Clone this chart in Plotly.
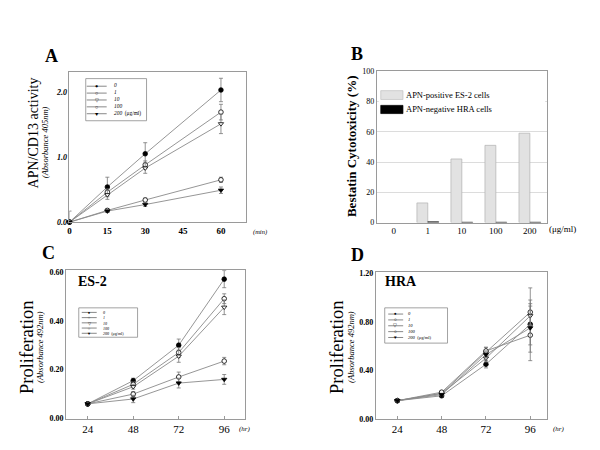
import plotly.graph_objects as go

# page body has an 8px margin: the figure is drawn 8px right/down in the window
OFF = 8
W, H = 600 - OFF, 450 - OFF
SERIF = "Liberation Serif"

# ---------------- data ----------------
doses = ["0", "1", "10", "100", "200"]

# Panel A: APN/CD13 activity vs time (min)
time_a = [0, 15, 30, 60]
a_d0 = [0.0, 0.54, 1.05, 2.03]
a_d1 = [0.0, 0.46, 0.88, 1.69]
a_d10 = [0.0, 0.42, 0.83, 1.51]
a_d100 = [0.0, 0.18, 0.34, 0.65]
a_d200 = [0.0, 0.17, 0.27, 0.49]
a_e0 = [0.17, 0.15, 0.17, 0.18]
a_e1 = [0.0, 0.05, 0.06, 0.12]
a_e10 = [0.0, 0.07, 0.08, 0.15]
a_e100 = [0.0, 0.03, 0.03, 0.04]
a_e200 = [0.0, 0.02, 0.03, 0.05]

# Panel B: bestatin cytotoxicity (%)
b_es2 = [0, 13, 42, 51, 59]
b_hra = [0, 0.6, 0.3, 0.3, 0.3]

# Panel C: ES-2 proliferation vs time (hr)
time_c = [24, 48, 72, 96]
c_d0 = [0.06, 0.155, 0.30, 0.57]
c_d1 = [0.06, 0.14, 0.27, 0.49]
c_d10 = [0.06, 0.13, 0.255, 0.455]
c_d100 = [0.06, 0.10, 0.17, 0.235]
c_d200 = [0.06, 0.08, 0.145, 0.16]
c_e0 = [0.0, 0.01, 0.025, 0.035]
c_e1 = [0.0, 0.01, 0.02, 0.02]
c_e10 = [0.0, 0.01, 0.025, 0.03]
c_e100 = [0.0, 0.01, 0.02, 0.015]
c_e200 = [0.0, 0.015, 0.02, 0.02]

# Panel D: HRA proliferation vs time (hr)
time_d = [24, 48, 72, 96]
d_d0 = [0.15, 0.19, 0.45, 0.78]
d_d1 = [0.15, 0.21, 0.55, 0.88]
d_d10 = [0.15, 0.21, 0.50, 0.85]
d_d100 = [0.15, 0.22, 0.56, 0.69]
d_d200 = [0.15, 0.20, 0.53, 0.75]
d_e0 = [0.005, 0.01, 0.03, 0.30]
d_e1 = [0.0, 0.01, 0.04, 0.10]
d_e10 = [0.0, 0.01, 0.03, 0.08]
d_e100 = [0.0, 0.01, 0.03, 0.08]
d_e200 = [0.0, 0.01, 0.03, 0.20]

# ---------------- styles ----------------
sym = ["circle", "circle", "triangle-down", "circle", "triangle-down"]
fill = ["black", "white", "white", "white", "black"]
leg_glyph = ["●", "○", "▽", "○", "▼"]
leg_text = ["0", "1", "10", "100", "200"]


def px(x):
    return (x - OFF) / W


def py(y):
    return 1 - (y - OFF) / H


fig = go.Figure()


def add_series(xs, ys, errs, xa, ya):
    for i in range(5):
        fig.add_trace(go.Scatter(
            x=xs, y=ys[i], mode="lines+markers", xaxis=xa, yaxis=ya,
            showlegend=False, cliponaxis=False,
            line=dict(color="#8a8a8a", width=0.9),
            marker=dict(symbol=sym[i], size=4.6, color=fill[i],
                        line=dict(color="black", width=0.8)),
            error_y=dict(type="data", array=errs[i], color="#777",
                         thickness=0.8, width=2),
        ))


add_series(time_a, [a_d0, a_d1, a_d10, a_d100, a_d200],
           [a_e0, a_e1, a_e10, a_e100, a_e200], "x", "y")

fig.add_trace(go.Bar(x=doses, y=b_es2, xaxis="x2", yaxis="y2",
                     name="APN-positive ES-2 cells", showlegend=False,
                     marker=dict(color="#e2e2e2",
                                 line=dict(color="#b0b0b0",
                                           width=[0.7 if v > 0 else 0 for v in b_es2]))))
fig.add_trace(go.Bar(x=doses, y=b_hra, xaxis="x2", yaxis="y2",
                     name="APN-negative HRA cells", showlegend=False,
                     marker=dict(color="black",
                                 line=dict(color="black",
                                           width=[0.5 if v > 0 else 0 for v in b_hra]))))

add_series(time_c, [c_d0, c_d1, c_d10, c_d100, c_d200],
           [c_e0, c_e1, c_e10, c_e100, c_e200], "x3", "y3")
add_series(time_d, [d_d0, d_d1, d_d10, d_d100, d_d200],
           [d_e0, d_e1, d_e10, d_e100, d_e200], "x4", "y4")

axcol = "#9a9a9a"
common = dict(showline=True, mirror=True, linecolor=axcol, linewidth=1,
              zeroline=False, showgrid=False, ticks="")

fig.update_layout(
    width=W, height=H, margin=dict(l=0, r=0, t=0, b=0),
    paper_bgcolor="white", plot_bgcolor="white",
    font=dict(family=SERIF, color="black"),
    barmode="group", bargap=0.36, bargroupgap=0,
    xaxis=dict(domain=[px(67.7), px(245)], anchor="y", range=[0, 70],
               tickvals=[0, 15, 30, 45, 60],
               tickfont=dict(size=9, weight="bold", color="black"), **common),
    yaxis=dict(domain=[py(222.5), py(69)], anchor="x", range=[0, 2.31],
               tickvals=[0, 1, 2], ticktext=["0.0", "1.0", "2.0"],
               tickfont=dict(size=8, weight="bold", style="italic", color="black"), **common),
    xaxis2=dict(domain=[px(376), px(546.7)], anchor="y2", type="category",
                tickfont=dict(size=9, color="black"), **common),
    yaxis2=dict(domain=[py(223), py(68.3)], anchor="x2", range=[0, 100],
                tickvals=[0, 20, 40, 60, 80, 100],
                tickfont=dict(size=8, color="black"), **{**common, "showgrid": True},
                gridcolor="#dcdcdc", gridwidth=0.8),
    xaxis3=dict(domain=[px(64.3), px(243.3)], anchor="y3", range=[12.6, 106.7],
                tickvals=time_c, tickfont=dict(size=11, color="black"),
                **{**common, "ticks": "inside"}, ticklen=3, tickcolor=axcol),
    yaxis3=dict(domain=[py(423), py(271.7)], anchor="x3", range=[0, 0.606],
                tickvals=[0, 0.2, 0.4, 0.6], ticktext=["0.00", "0.20", "0.40", "0.60"],
                tickfont=dict(size=8, weight="bold", color="black"), **common),
    xaxis4=dict(domain=[px(375), px(546.7)], anchor="y4", range=[12.3, 105],
                tickvals=time_d, tickfont=dict(size=11, color="black"),
                **{**common, "ticks": "inside"}, ticklen=3, tickcolor=axcol),
    yaxis4=dict(domain=[py(423.3), py(273.3)], anchor="x4", range=[0, 1.212],
                tickvals=[0, 0.4, 0.8, 1.2], ticktext=["0.00", "0.40", "0.80", "1.20"],
                tickfont=dict(size=8, weight="bold", color="black"), **common),
)

ann = []
shapes = []


def text(x, y, t, size, weight="normal", style="normal", angle=0, xanchor="center",
         align="center"):
    ann.append(dict(x=px(x), y=py(y), xref="paper", yref="paper", text=t,
                    showarrow=False, textangle=angle, xanchor=xanchor, yanchor="middle",
                    align=align, borderpad=0,
                    font=dict(family=SERIF, size=size, weight=weight, style=style, color="black")))


# panel letters
text(50, 53, "A", 18, "bold")
text(356, 51, "B", 18, "bold")
text(47, 254, "C", 18, "bold")
text(357, 256, "D", 18, "bold")

# y titles
text(32, 131, "APN/CD13 activity", 14, angle=-90)
text(43, 141, "(Absorbance 405nm)", 8.5, style="italic", angle=-90)
text(350, 145, "Bestatin Cytotoxicity (%)", 13, "bold", angle=-90)
text(25, 350, "Proliferation", 18.5, angle=-90)
text(38, 350, "(Absorbance 492nm)", 8.5, style="italic", angle=-90)
text(336, 350, "Proliferation", 18.5, angle=-90)
text(350, 350, "(Absorbance 492nm)", 8.5, style="italic", angle=-90)

# axis units
text(251, 233, "(min)", 6.5, style="italic", xanchor="left")
text(548, 230, "(μg/ml)", 9, xanchor="left")
text(237, 434, "(hr)", 7, style="italic", xanchor="left")
text(552, 434, "(hr)", 7, style="italic", xanchor="left")

# inner labels
text(75, 283, "ES-2", 14, "bold", xanchor="left")
text(383, 283, "HRA", 14, "bold", xanchor="left")


def rect(x0, y0, x1, y1, fillc, linec, lw=0.8):
    shapes.append(dict(type="rect", xref="paper", yref="paper",
                       x0=px(x0), x1=px(x1), y0=py(y1), y1=py(y0),
                       fillcolor=fillc, line=dict(color=linec, width=lw), layer="above"))


def seg(x0, x1, y):
    shapes.append(dict(type="line", xref="paper", yref="paper",
                       x0=px(x0), x1=px(x1), y0=py(y), y1=py(y),
                       line=dict(color="#555", width=0.7), layer="above"))


def line_legend(box, sym_x, half, lab_x, size):
    rect(*box, "white", "#8a8a8a", 0.8)
    yc = (box[1] + box[3]) / 2
    step = 1.3 * size
    for i in range(5):
        seg(sym_x - half, sym_x + half, yc + (i - 2) * step + 0.3)
    glyphs = "<br>".join(leg_glyph)
    labels = "<br>".join("<i>" + t + "</i>" for t in leg_text[:4]) + \
        "<br><i>" + leg_text[4] + "</i>  (μg/ml)"
    text(sym_x, yc, glyphs, size)
    text(lab_x, yc, labels, size, xanchor="left", align="left")


line_legend((84, 76, 145, 119), 95, 10, 111, 5.4)
line_legend((77, 310, 136, 340), 87.5, 7.5, 100, 4.1)
line_legend((384, 310, 447, 346), 395, 7.5, 406, 4.6)

# legend B
rect(378, 84, 545, 115, "white", "white", 0)
rect(380, 88.3, 402.3, 97.3, "#e2e2e2", "#c0c0c0", 0.7)
rect(380, 103.3, 402.3, 111.7, "black", "black", 0.7)
text(404.3, 93, "APN-positive ES-2 cells", 8.5, xanchor="left")
text(404.3, 107.5, "APN-negative HRA cells", 8.5, xanchor="left")

fig.update_layout(annotations=ann, shapes=shapes)
fig.write_html("out.html")
